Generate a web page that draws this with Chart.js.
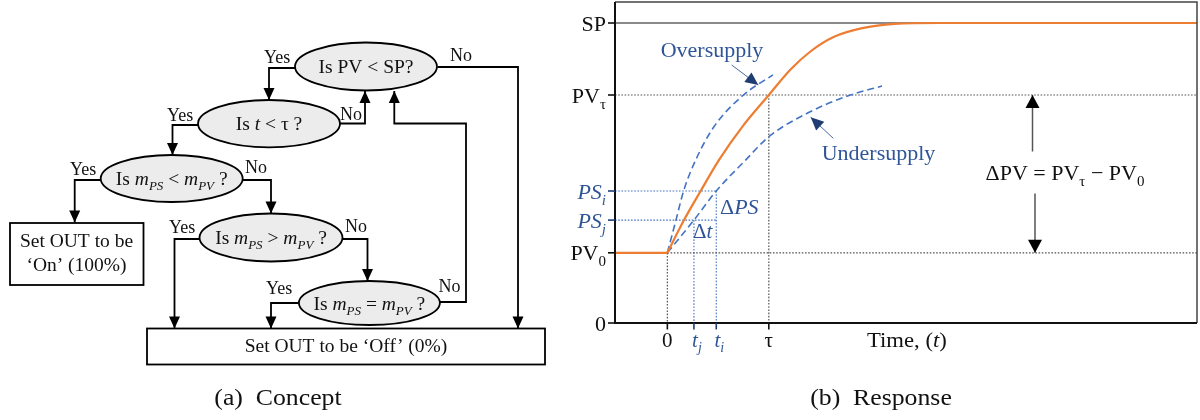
<!DOCTYPE html>
<html>
<head>
<meta charset="utf-8">
<script src="https://cdn.jsdelivr.net/npm/chart.js@4.4.1/dist/chart.umd.min.js"></script>
<style>
  html, body { margin: 0; background: #fff; }
  canvas { display: block; }
</style>
</head>
<body>
<canvas id="fig" width="1200" height="420" style="width:1200px;height:420px"></canvas>
<script>
// axis domain (tau = 1, SP = 1)
const timeRange = [-0.516, 5.22];
const levelRange = [0, 1.07];

// tick positions and labels
const timeValues = [0, 0.262, 0.482, 1];
const timeLabels = ['0', 't_j', 't_i', 'τ'];
const levelValues = [0, 0.234, 0.343, 0.44, 0.76, 1];
const levelLabels = ['0', 'PV_0', 'PS_j', 'PS_i', 'PV_τ', 'SP'];
const blueLabels = ['t_j', 't_i', 'PS_j', 'PS_i'];

// process variable response
const preStepTime = [-0.516, 0];
const preStepPV = [0.234, 0.234];
const responseTime = [0, 0.164, 0.328, 0.508, 0.738, 1, 1.214, 1.41, 1.643, 1.91, 2.24, 2.69, 5.22];
const responsePV = [0.234, 0.343, 0.44, 0.543, 0.654, 0.76, 0.845, 0.905, 0.954, 0.982, 0.997, 1, 1];

// supply curves
const overTime = [0, 0.085, 0.16, 0.279, 0.459, 0.75, 1.04];
const overPS = [0.234, 0.343, 0.44, 0.543, 0.654, 0.76, 0.827];
const underTime = [0, 0.262, 0.482, 0.771, 1, 1.378, 1.804, 2.116];
const underPS = [0.234, 0.343, 0.44, 0.543, 0.621, 0.699, 0.76, 0.79];

const FONT = '"Liberation Serif", "Times New Roman", serif';
const BLUE_TXT = '#2f5597';
const NAVY = '#1f3d73';

const pairs = (xs, ys) => xs.map((x, i) => ({ x, y: ys[i] }));
const [lv0, pv0, psj, psi, pvTau, sp] = levelValues;
const [t0, tj, ti, tau] = timeValues;

function line(data, color, width, dash, smooth) {
  return {
    data, showLine: true, borderColor: color, borderWidth: width,
    borderDash: dash || [], pointRadius: 0,
    cubicInterpolationMode: smooth ? 'monotone' : 'default', tension: 0
  };
}

const dotted = [1.6, 1.6];
const datasets = [
  line(pairs(responseTime, responsePV), '#ed7d31', 2.2, null, true),
  line(pairs(preStepTime, preStepPV), '#ed7d31', 2.2),
  line(pairs(overTime, overPS), '#4472c4', 1.6, [7, 4], true),
  line(pairs(underTime, underPS), '#4472c4', 1.6, [7, 4], true),
  line([{ x: timeRange[0], y: sp }, { x: timeRange[1], y: sp }], '#8a8a8a', 2),
  line([{ x: timeRange[0], y: pvTau }, { x: timeRange[1], y: pvTau }], '#555', 1.2, dotted),
  line([{ x: t0, y: pv0 }, { x: timeRange[1], y: pv0 }], '#555', 1.2, dotted),
  line([{ x: t0, y: pv0 }, { x: t0, y: lv0 }], '#555', 1.2, dotted),
  line([{ x: tau, y: pvTau }, { x: tau, y: lv0 }], '#555', 1.2, dotted),
  line([{ x: timeRange[0], y: psi }, { x: ti, y: psi }], '#4472c4', 1.1, dotted),
  line([{ x: timeRange[0], y: psj }, { x: ti, y: psj }], '#4472c4', 1.1, dotted),
  line([{ x: tj, y: psj }, { x: tj, y: lv0 }], '#4472c4', 1.1, dotted),
  line([{ x: ti, y: psi }, { x: ti, y: lv0 }], '#4472c4', 1.1, dotted)
];

// text made of runs: {t, i: italic, s: subscript}
function drawRuns(ctx, parts, x, y, size, align, color, sx) {
  sx = sx || 1;
  const fontFor = p => (p.i ? 'italic ' : '') + (p.s ? Math.round(size * 0.68) : size) + 'px ' + FONT;
  let w = 0;
  parts.forEach(p => { ctx.font = fontFor(p); w += ctx.measureText(p.t).width; });
  const x0 = align === 'center' ? x - w * sx / 2 : align === 'right' ? x - w * sx : x;
  ctx.save();
  ctx.translate(x0, y);
  ctx.scale(sx, 1);
  ctx.fillStyle = color;
  ctx.textAlign = 'left';
  ctx.textBaseline = 'alphabetic';
  let cx = 0;
  parts.forEach(p => {
    ctx.font = fontFor(p);
    ctx.fillText(p.t, cx, p.s ? size * 0.28 : 0);
    cx += ctx.measureText(p.t).width;
  });
  ctx.restore();
}

function labelParts(label) {
  const italic = blueLabels.includes(label);
  const [base, sub] = label.split('_');
  const parts = [{ t: base, i: italic }];
  if (sub) parts.push({ t: sub, s: true, i: italic && sub !== 'τ' });
  return parts;
}

function head(ctx, x1, y1, x2, y2, len, half, color) {
  const a = Math.atan2(y2 - y1, x2 - x1);
  ctx.save();
  ctx.fillStyle = color;
  ctx.beginPath();
  ctx.moveTo(x2, y2);
  ctx.lineTo(x2 - len * Math.cos(a) + half * Math.sin(a), y2 - len * Math.sin(a) - half * Math.cos(a));
  ctx.lineTo(x2 - len * Math.cos(a) - half * Math.sin(a), y2 - len * Math.sin(a) + half * Math.cos(a));
  ctx.closePath();
  ctx.fill();
  ctx.restore();
}

function arrow(ctx, pts, color, width, headColor, len, half) {
  ctx.save();
  ctx.strokeStyle = color;
  ctx.lineWidth = width;
  ctx.beginPath();
  pts.forEach((p, k) => k ? ctx.lineTo(p[0], p[1]) : ctx.moveTo(p[0], p[1]));
  ctx.stroke();
  ctx.restore();
  const a = pts[pts.length - 2], b = pts[pts.length - 1];
  head(ctx, a[0], a[1], b[0], b[1], len, half, headColor);
}

function drawFlowchart(ctx) {
  const ellipses = [
    [366, 66.5, 71, 24, [{ t: 'Is PV < SP?' }]],
    [269, 123.7, 71, 23.7, [{ t: 'Is ' }, { t: 't', i: 1 }, { t: ' < τ ?' }]],
    [171.7, 178.5, 71, 23.5, [{ t: 'Is ' }, { t: 'm', i: 1 }, { t: 'PS', i: 1, s: 1 }, { t: ' < ' }, { t: 'm', i: 1 }, { t: 'PV', i: 1, s: 1 }, { t: ' ?' }]],
    [271, 237.5, 71.5, 24, [{ t: 'Is ' }, { t: 'm', i: 1 }, { t: 'PS', i: 1, s: 1 }, { t: ' > ' }, { t: 'm', i: 1 }, { t: 'PV', i: 1, s: 1 }, { t: ' ?' }]],
    [369.4, 303, 70.5, 22, [{ t: 'Is ' }, { t: 'm', i: 1 }, { t: 'PS', i: 1, s: 1 }, { t: ' = ' }, { t: 'm', i: 1 }, { t: 'PV', i: 1, s: 1 }, { t: ' ?' }]]
  ];
  const links = [
    [[295, 68], [269, 68], [269, 100]],
    [[437.5, 67], [518, 67], [518, 328.5]],
    [[198, 125], [172.5, 125], [172.5, 155]],
    [[340, 123.5], [365, 123.5], [365, 91]],
    [[100.7, 180], [74.7, 180], [74.7, 222.5]],
    [[242.7, 180], [271, 180], [271, 213.5]],
    [[199.5, 239], [174.5, 239], [174.5, 328.5]],
    [[342.5, 239], [367.5, 239], [367.5, 281]],
    [[299, 303], [271, 303], [271, 328.5]],
    [[440, 302], [466, 302], [466, 123.5], [394.3, 123.5], [394.3, 91]]
  ];
  links.forEach(l => arrow(ctx, l, '#000', 1.8, '#000', 12, 5.5));

  ctx.save();
  ctx.lineWidth = 1.8;
  ctx.strokeStyle = '#000';
  ellipses.forEach(e => {
    ctx.beginPath();
    ctx.ellipse(e[0], e[1], e[2], e[3], 0, 0, Math.PI * 2);
    ctx.fillStyle = '#ececec';
    ctx.fill();
    ctx.stroke();
  });
  ctx.fillStyle = '#fff';
  ctx.fillRect(10, 223, 133.5, 62);
  ctx.strokeRect(10, 223, 133.5, 62);
  ctx.fillRect(147, 328.5, 398, 36);
  ctx.strokeRect(147, 328.5, 398, 36);
  ctx.restore();

  ellipses.forEach(e => drawRuns(ctx, e[4], e[0], e[1] + 6.5, 19.5, 'center', '#111'));
  drawRuns(ctx, [{ t: 'Set OUT to be' }], 76.5, 247, 19.5, 'center', '#111');
  drawRuns(ctx, [{ t: '\u2018On\u2019 (100%)' }], 76.5, 271, 19.5, 'center', '#111');
  drawRuns(ctx, [{ t: 'Set OUT to be \u2018Off\u2019 (0%)' }], 346, 352, 19.5, 'center', '#111');

  const answers = [
    ['Yes', 264, 62.5], ['No', 450, 60.5], ['Yes', 167, 120.5], ['No', 340, 120],
    ['Yes', 70, 175], ['No', 245, 173], ['Yes', 169, 233], ['No', 345, 231.5],
    ['Yes', 266, 294], ['No', 438.5, 291.5]
  ];
  answers.forEach(a => drawRuns(ctx, [{ t: a[0] }], a[1], a[2], 18, 'left', '#111'));
}

const figurePlugin = {
  id: 'figure',
  beforeDraw(chart) {
    const ctx = chart.ctx;
    ctx.save();
    ctx.fillStyle = '#fff';
    ctx.fillRect(0, 0, chart.width, chart.height);
    ctx.restore();
  },
  afterDraw(chart) {
    const ctx = chart.ctx;
    const { left, right, top, bottom } = chart.chartArea;
    const xs = chart.scales.x, ys = chart.scales.y;

    // frame and axes
    ctx.save();
    ctx.strokeStyle = '#444';
    ctx.lineWidth = 1.5;
    ctx.beginPath();
    ctx.moveTo(left, top); ctx.lineTo(right, top); ctx.lineTo(right, bottom);
    ctx.stroke();
    ctx.strokeStyle = '#111';
    ctx.lineWidth = 2;
    ctx.beginPath();
    ctx.moveTo(left, top); ctx.lineTo(left, bottom); ctx.lineTo(right, bottom);
    ctx.stroke();

    // ticks
    ctx.lineWidth = 1.6;
    levelValues.forEach((v, k) => {
      const y = ys.getPixelForValue(v);
      const blue = blueLabels.includes(levelLabels[k]);
      ctx.strokeStyle = blue ? NAVY : '#111';
      ctx.beginPath(); ctx.moveTo(left - 7, y); ctx.lineTo(left, y); ctx.stroke();
      drawRuns(ctx, labelParts(levelLabels[k]), left - 9, y + 7.5, 22, 'right', blue ? BLUE_TXT : '#111');
    });
    timeValues.forEach((v, k) => {
      const x = xs.getPixelForValue(v);
      const blue = blueLabels.includes(timeLabels[k]);
      ctx.strokeStyle = blue ? NAVY : '#111';
      ctx.beginPath(); ctx.moveTo(x, bottom); ctx.lineTo(x, bottom + 6.5); ctx.stroke();
      drawRuns(ctx, labelParts(timeLabels[k]), x + (blue ? 3 : 0), bottom + 23.5, 21, 'center', blue ? BLUE_TXT : '#111');
    });
    ctx.restore();

    drawRuns(ctx, [{ t: 'Time, (' }, { t: 't', i: 1 }, { t: ')' }], 867, bottom + 24, 21, 'left', '#111', 1.08);

    // annotations
    drawRuns(ctx, [{ t: 'Oversupply' }], 712, 57, 22, 'center', BLUE_TXT);
    arrow(ctx, [[731.7, 65], [758.3, 85]], '#4a6aa5', 1, NAVY, 13, 6);
    drawRuns(ctx, [{ t: 'Undersupply' }], 878.5, 160, 22, 'center', BLUE_TXT);
    arrow(ctx, [[833.3, 138.3], [810.7, 117.3]], '#4a6aa5', 1, NAVY, 13, 6);
    drawRuns(ctx, [{ t: '\u0394' }, { t: 'PS', i: 1 }], 720, 213.5, 22, 'left', BLUE_TXT);
    drawRuns(ctx, [{ t: '\u0394' }, { t: 't', i: 1 }], 693, 238, 21, 'left', BLUE_TXT);

    const yTau = ys.getPixelForValue(pvTau), y0 = ys.getPixelForValue(pv0);
    arrow(ctx, [[1032.5, 151.5], [1032.5, yTau]], '#555', 1.5, '#000', 13, 7);
    arrow(ctx, [[1035, 193.5], [1035, y0]], '#555', 1.5, '#000', 13, 7);
    drawRuns(ctx, [{ t: '\u0394PV = PV' }, { t: 'τ', s: 1 }, { t: ' \u2212 PV' }, { t: '0', s: 1 }], 1065, 180, 22, 'center', '#111');

    drawFlowchart(ctx);

    // captions
    drawRuns(ctx, [{ t: '(a)\u2002Concept' }], 278, 405, 23, 'center', '#111', 1.12);
    drawRuns(ctx, [{ t: '(b)\u2002Response' }], 881, 405, 23, 'center', '#111', 1.12);
  }
};

new Chart(document.getElementById('fig'), {
  type: 'scatter',
  data: { datasets },
  options: {
    responsive: false,
    animation: false,
    devicePixelRatio: 1,
    layout: { padding: { left: 615, right: 3, top: 2, bottom: 97 } },
    plugins: { legend: { display: false }, tooltip: { enabled: false } },
    scales: {
      x: { type: 'linear', display: false, min: timeRange[0], max: timeRange[1] },
      y: { type: 'linear', display: false, min: levelRange[0], max: levelRange[1] }
    }
  },
  plugins: [figurePlugin]
});
</script>
</body>
</html>
